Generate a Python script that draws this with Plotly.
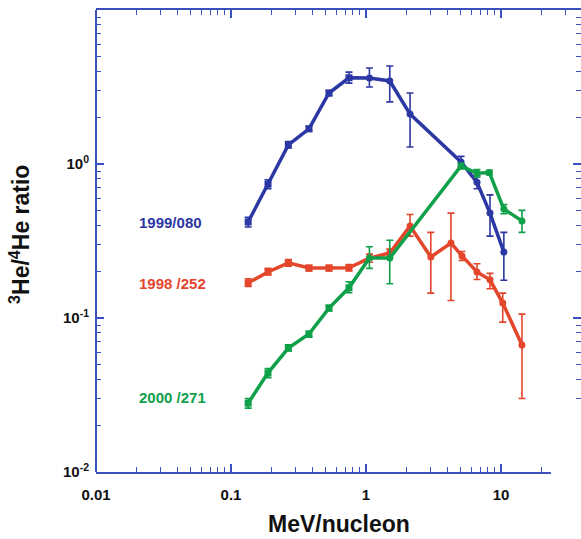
import numpy as np
import plotly.graph_objects as go

# Energy (MeV/nucleon) and 3He/4He ratios for three events
e_1999 = [0.134, 0.188, 0.266, 0.378, 0.532, 0.748, 1.06, 1.50, 2.12, 5.06, 6.64, 8.29, 10.5]
r_1999 = [0.42, 0.74, 1.33, 1.69, 2.89, 3.63, 3.62, 3.46, 2.11, 1.03, 0.76, 0.48, 0.268]
hi_1999 = [0.45, 0.79, 1.40, 1.76, 3.00, 3.95, 4.20, 4.33, 2.89, 1.12, 0.84, 0.63, 0.36]
lo_1999 = [0.39, 0.69, 1.27, 1.63, 2.78, 3.35, 3.16, 2.53, 1.29, 0.96, 0.69, 0.34, 0.176]

e_1998 = [0.134, 0.188, 0.266, 0.378, 0.532, 0.748, 1.06, 1.50, 2.12, 3.02, 4.26, 5.14, 6.64, 8.29, 10.3, 14.3]
r_1998 = [0.169, 0.199, 0.228, 0.211, 0.211, 0.212, 0.245, 0.264, 0.395, 0.249, 0.307, 0.253, 0.199, 0.177, 0.125, 0.0668]
hi_1998 = [0.180, 0.210, 0.240, 0.220, 0.220, 0.222, 0.260, 0.280, 0.470, 0.360, 0.480, 0.270, 0.225, 0.195, 0.145, 0.106]
lo_1998 = [0.160, 0.190, 0.217, 0.202, 0.202, 0.202, 0.230, 0.248, 0.340, 0.145, 0.130, 0.236, 0.178, 0.155, 0.094, 0.030]

e_2000 = [0.134, 0.188, 0.266, 0.378, 0.532, 0.748, 1.06, 1.50, 5.06, 6.64, 8.20, 10.5, 14.3]
r_2000 = [0.028, 0.044, 0.0638, 0.0787, 0.116, 0.157, 0.245, 0.245, 0.97, 0.87, 0.88, 0.51, 0.427]
hi_2000 = [0.030, 0.047, 0.067, 0.082, 0.121, 0.172, 0.290, 0.320, 1.01, 0.92, 0.91, 0.545, 0.50]
lo_2000 = [0.026, 0.041, 0.061, 0.075, 0.111, 0.146, 0.210, 0.167, 0.93, 0.82, 0.85, 0.475, 0.36]

labels = ["1999/080", "1998 /252", "2000 /271"]
colors = ["#2b37a3", "#e4462c", "#0fa04a"]
label_y = [0.541, 0.407, 0.162]

x_ticks = [0.01, 0.1, 1, 10]
x_ticktext = ["0.01", "0.1", "1", "10"]
y_ticks = [0.01, 0.1, 1, 10]
y_ticktext = ["10<sup>-2</sup>", "10<sup>-1</sup>", "10<sup>0</sup>", "10<sup>1</sup>"]

AXIS = "#3b50bf"
FONT = "Liberation Sans"

fig = go.Figure()

series = [
    (e_1999, r_1999, hi_1999, lo_1999),
    (e_1998, r_1998, hi_1998, lo_1998),
    (e_2000, r_2000, hi_2000, lo_2000),
]
for (e, r, hi, lo), name, col in zip(series, labels, colors):
    r_arr = np.array(r)
    symbols = ["square" if v < 1 else "circle" for v in e]
    fig.add_trace(go.Scatter(
        x=e, y=r, mode="lines+markers", name=name,
        line=dict(color=col, width=3.5),
        marker=dict(color=col, size=7, symbol=symbols),
        error_y=dict(type="data", symmetric=False,
                     array=np.array(hi) - r_arr,
                     arrayminus=r_arr - np.array(lo),
                     color=col, thickness=1.6, width=3.5),
        showlegend=False,
    ))

for name, col, yp in zip(labels, colors, label_y):
    fig.add_annotation(text=f"<b>{name}</b>", xref="paper", yref="paper",
                       x=0.0845, y=yp, xanchor="left", yanchor="middle",
                       showarrow=False, font=dict(family=FONT, size=15, color=col))

# Axis titles
fig.add_annotation(text="<b><sup>3</sup>He/<sup>4</sup>He ratio</b>", textangle=-90,
                   xref="paper", yref="paper", x=-0.157, y=0.515,
                   xanchor="center", yanchor="middle", showarrow=False,
                   font=dict(family=FONT, size=23, color="#111111"))
fig.add_annotation(text="<b>MeV/nucleon</b>", xref="paper", yref="paper",
                   x=0.5, y=-0.113, xanchor="center", yanchor="middle",
                   showarrow=False, font=dict(family=FONT, size=23, color="#111111"))

# Left frame line (the right side only carries ticks)
fig.add_shape(type="line", xref="paper", yref="paper", x0=0, x1=0, y0=0, y1=1,
              line=dict(color=AXIS, width=2), layer="above")

# Blank patch in the lower right corner of the frame
fig.add_shape(type="rect", xref="paper", yref="paper", x0=0.938, x1=1.05,
              y0=-0.3, y1=0.1515, fillcolor="white", line=dict(width=0), layer="above")

axis_common = dict(
    type="log", showgrid=False, zeroline=False,
    ticks="inside", ticklen=8, tickwidth=1.5, tickcolor=AXIS,
    minor=dict(ticks="inside", ticklen=5, tickwidth=1.2, tickcolor=AXIS, dtick="D1", showgrid=False),
    tickfont=dict(family=FONT, size=15, color="#111111", weight="bold"),
)

fig.update_xaxes(range=[-2, 1.5926], tickvals=x_ticks, ticktext=x_ticktext,
                 showline=True, linecolor=AXIS, linewidth=2, mirror="ticks",
                 ticklabelstandoff=8, **axis_common)
fig.update_yaxes(range=[-2, 1], tickvals=y_ticks, ticktext=y_ticktext,
                 showline=False, mirror="ticks",
                 ticklabelstandoff=6, **axis_common)

fig.update_layout(
    width=581, height=539,
    margin=dict(l=96, r=0, t=10, b=67),
    paper_bgcolor="white", plot_bgcolor="white",
)

fig.write_html("out.html")
